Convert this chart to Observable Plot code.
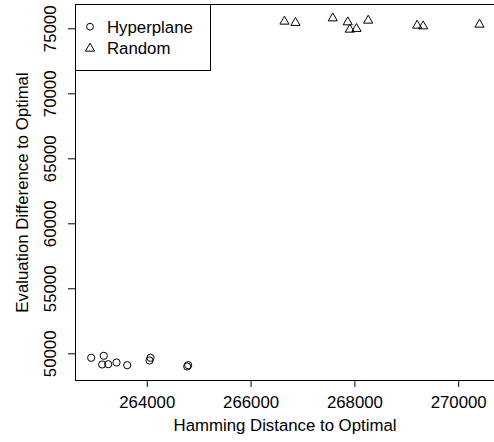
<!DOCTYPE html>
<html>
<head>
<meta charset="utf-8">
<script src="https://cdn.jsdelivr.net/npm/d3@7"></script>
<script src="https://cdn.jsdelivr.net/npm/@observablehq/plot@0.6"></script>
<style>
  html, body { margin: 0; padding: 0; background: #fff; }
  #chart { position: relative; width: 494px; height: 442px; }
</style>
</head>
<body>
<div id="chart"></div>
<script>
// Hyperplane series (circles)
const hyperX = [262919, 263162, 263131, 263247, 263407, 263613, 264062, 264042, 264769, 264788];
const hyperY = [49692, 49846, 49177, 49200, 49331, 49123, 49692, 49485, 49023, 49123];
// Random series (triangles)
const randX = [266643, 266855, 267574, 267863, 267902, 268031, 268256, 269200, 269316, 270401];
const randY = [75562, 75462, 75815, 75508, 74946, 75000, 75638, 75254, 75200, 75331];

const xTicks = [264000, 266000, 268000, 270000];
const yTicks = [50000, 55000, 60000, 65000, 70000, 75000];
const xDomain = [262617, 270690];
const yDomain = [47946, 76869];
const xTitle = "Hamming Distance to Optimal";
const yTitle = "Evaluation Difference to Optimal";
const legendLabels = ["Hyperplane", "Random"];

const hyper = hyperX.map((x, i) => ({x, y: hyperY[i]}));
const rand = randX.map((x, i) => ({x, y: randY[i]}));

const font = "'Liberation Sans', Arial, Helvetica, sans-serif";
const fs = 16.8;

const plot = Plot.plot({
  width: 494,
  height: 442,
  marginLeft: 75,
  marginRight: 0,
  marginTop: 4,
  marginBottom: 62,
  style: {fontFamily: font, fontSize: fs + "px", background: "#fff", color: "#000"},
  x: {domain: xDomain, label: null},
  y: {domain: yDomain, label: null},
  marks: [
    Plot.ruleX([xDomain[0]], {stroke: "#000", strokeWidth: 1}),
    Plot.ruleY([yDomain[0]], {stroke: "#000", strokeWidth: 1}),
    Plot.ruleY([yDomain[1]], {stroke: "#000", strokeWidth: 1}),
    Plot.axisX({ticks: xTicks, tickSize: 7, tickPadding: 9, tickFormat: d3.format("d"), label: null, fontSize: fs}),
    Plot.axisY({ticks: yTicks, tickSize: 7, tickFormat: () => "", label: null}),
    Plot.text(yTicks, {y: d => d, text: d => String(d), frameAnchor: "left", textAnchor: "middle", dx: -25, rotate: -90, fontSize: fs, fill: "#000"}),
    Plot.text([xTitle], {text: d => d, frameAnchor: "bottom", textAnchor: "middle", dy: 50, fontSize: fs, fill: "#000"}),
    Plot.text([yTitle], {text: d => d, frameAnchor: "left", textAnchor: "middle", dx: -53, rotate: -90, fontSize: fs, fill: "#000"}),
    Plot.dot(hyper, {x: "x", y: "y", r: 3.6, stroke: "#000", fill: "none", strokeWidth: 1}),
    Plot.dot(rand, {x: "x", y: "y", r: 3.4, symbol: "triangle", stroke: "#000", fill: "none", strokeWidth: 1})
  ]
});

document.getElementById("chart").appendChild(plot);

// Legend box (top-left inside plot region)
const svg = d3.select(plot);
const lg = svg.append("g").attr("font-family", font).attr("font-size", fs + "px").attr("text-anchor", "start");
lg.append("rect").attr("x", 75.5).attr("y", 4.5).attr("width", 135).attr("height", 66)
  .attr("fill", "#fff").attr("stroke", "#000").attr("stroke-width", 1);
lg.append("path").attr("d", d3.symbol(d3.symbolCircle, Math.PI * 3.4 * 3.4)())
  .attr("transform", "translate(90,26.7)").attr("fill", "none").attr("stroke", "#000");
lg.append("path").attr("d", d3.symbol(d3.symbolTriangle, Math.PI * 3.4 * 3.4)())
  .attr("transform", "translate(90,48.5)").attr("fill", "none").attr("stroke", "#000");
lg.append("text").attr("x", 107).attr("y", 33.3).attr("text-anchor", "start").attr("fill", "#000").text(legendLabels[0]);
lg.append("text").attr("x", 107).attr("y", 54.3).attr("text-anchor", "start").attr("fill", "#000").text(legendLabels[1]);
</script>
</body>
</html>
